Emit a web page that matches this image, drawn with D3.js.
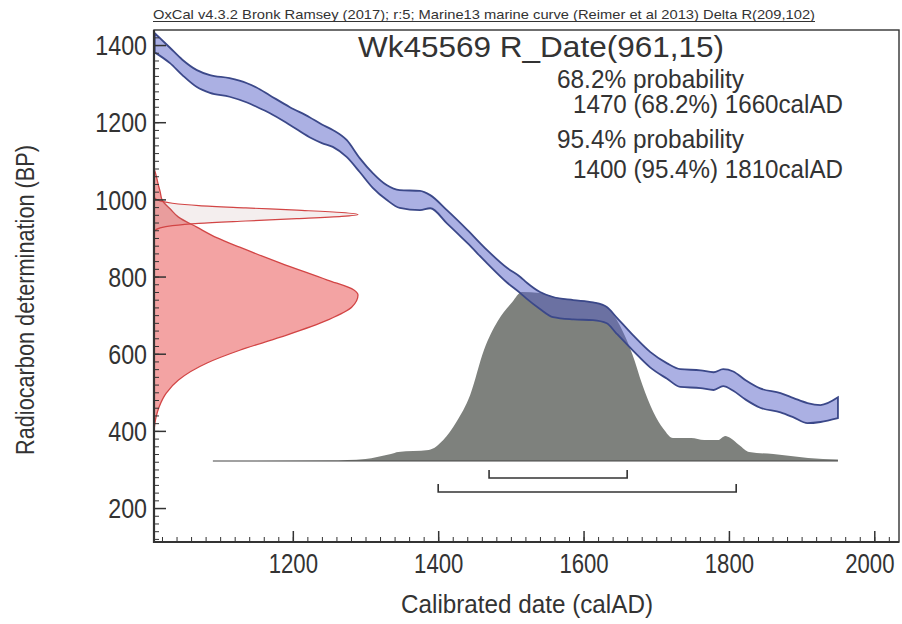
<!DOCTYPE html>
<html>
<head>
<meta charset="utf-8">
<script src="https://cdn.jsdelivr.net/npm/d3@7"></script>
<style>
  body { margin: 0; background: #fff; }
  text { font-family: "Liberation Sans", Arial, Helvetica, sans-serif; fill: #333; }
</style>
</head>
<body>
<div id="chart"></div>
<script>
// calibration curve (Marine13 + Delta R) : year, BP centre, 1 sigma half width
const curveYears = [1010, 1031, 1048, 1068, 1086, 1113, 1137, 1150, 1168, 1196, 1223, 1240, 1255, 1274, 1292, 1310, 1329, 1347, 1375, 1389,
    1412, 1440, 1467, 1495, 1513, 1522, 1540, 1558, 1586, 1613, 1632, 1645, 1668, 1692, 1715, 1733, 1761, 1779, 1792, 1806,
    1823, 1843, 1871, 1889, 1908, 1926, 1950];
const curveBP = [1406, 1373, 1342, 1313, 1299, 1290, 1276, 1265, 1247, 1216, 1187, 1170, 1158, 1132, 1089, 1049, 1018, 1001, 997, 994,
    955, 904, 852, 803, 778, 763, 738, 721, 714, 710, 700, 674, 628, 584, 555, 537, 534, 529, 538, 529,
    506, 485, 473, 460, 446, 445, 460];
const curveErr = [25, 20, 20, 22, 23, 24, 25, 25, 23, 23, 26, 24, 22, 22, 18, 19, 19, 23, 25, 17,
    17, 17, 17, 19, 21, 21, 22, 26, 25, 23, 21, 21, 20, 20, 20, 23, 23, 23, 22, 25,
    25, 25, 25, 25, 26, 22, 27];

// radiocarbon date after reservoir correction (red, on the y axis)
const redBP = [1080, 1063, 1040, 1020, 998, 975, 954, 928, 900, 876, 835, 791, 765, 752, 721, 687, 643, 609, 576, 532, 498, 462, 436, 400];
const redProb = [0, 0.01, 0.02, 0.03, 0.04, 0.08, 0.12, 0.21, 0.31, 0.42, 0.62, 0.85, 0.98, 1.0, 0.97, 0.85, 0.62, 0.42, 0.26, 0.12, 0.06, 0.025, 0.01, 0];

// raw measurement R_Date(961,15)
const rawBP = [1005, 996, 990, 984, 978, 972, 966, 961, 956, 950, 944, 938, 932, 926, 917];
const rawProb = [0, 0.03, 0.09, 0.22, 0.45, 0.7, 0.92, 1.0, 0.92, 0.7, 0.45, 0.22, 0.09, 0.03, 0];

// calibrated probability (grey)
const calYears = [1090, 1250, 1300, 1316, 1335, 1345, 1387, 1407, 1425, 1444, 1463, 1482, 1502, 1515, 1540, 1560, 1586, 1613, 1632, 1645,
    1655, 1667, 1681, 1696, 1710, 1723, 1748, 1766, 1785, 1795, 1802, 1814, 1828, 1861, 1909, 1950];
const calProb = [0, 0.003, 0.012, 0.024, 0.041, 0.053, 0.065, 0.124, 0.231, 0.391, 0.657, 0.828, 0.941, 1.0, 0.994, 0.970, 0.953, 0.941, 0.911, 0.840,
    0.757, 0.633, 0.450, 0.290, 0.189, 0.136, 0.136, 0.124, 0.124, 0.148, 0.136, 0.095, 0.053, 0.041, 0.018, 0.009];

const range68 = [1470, 1660];
const range95 = [1400, 1810];

const xTicks = [1200, 1400, 1600, 1800, 2000];
const yTicks = [200, 400, 600, 800, 1000, 1200, 1400];

const width = 902, height = 624,
    margin = ({ top: 30, right: 3, bottom: 82, left: 154 });
const plotBottom = height - margin.bottom;

const svg = d3.select("#chart")
    .append("svg")
    .attr("width", width)
    .attr("height", height);

const x = d3.scaleLinear([1009, 2034], [margin.left, width - margin.right]);
const y = d3.scaleLinear([112, 1439], [plotBottom, margin.top]);
// probability scales
const xr = d3.scaleLinear([0, 1], [margin.left, margin.left + 204]);
const yp = d3.scaleLinear([0, 1], [plotBottom - 81, plotBottom - 250]);

svg.append("clipPath").attr("id", "clip")
    .append("rect")
    .attr("x", margin.left).attr("y", margin.top)
    .attr("width", width - margin.right - margin.left)
    .attr("height", plotBottom - margin.top);

const plot = svg.append("g").attr("clip-path", "url(#clip)");

// red distribution
const redData = redBP.map((b, i) => ({ bp: b, p: redProb[i] }));
plot.append("path")
    .datum(redData)
    .attr("fill", "rgb(232,72,72)")
    .attr("fill-opacity", 0.5)
    .attr("d", d3.area().curve(d3.curveMonotoneY).y(d => y(d.bp)).x0(xr(0)).x1(d => xr(d.p)));
plot.append("path")
    .datum(redData)
    .attr("fill", "none")
    .attr("stroke", "#d24545")
    .attr("stroke-width", 1.3)
    .attr("d", d3.line().curve(d3.curveMonotoneY).y(d => y(d.bp)).x(d => xr(d.p)));

// raw date spike
const rawData = rawBP.map((b, i) => ({ bp: b, p: rawProb[i] }));
plot.append("path")
    .datum(rawData)
    .attr("fill", "rgb(170,120,120)")
    .attr("fill-opacity", 0.13)
    .attr("stroke", "#d24545")
    .attr("stroke-width", 1.2)
    .attr("d", d3.area().curve(d3.curveMonotoneY).y(d => y(d.bp)).x0(xr(0)).x1(d => xr(d.p)));

// calibrated distribution
const calData = calYears.map((yr, i) => ({ yr: yr, p: calProb[i] }));
plot.append("path")
    .datum(calData)
    .attr("fill", "#7e817d")
    .attr("d", d3.area().curve(d3.curveMonotoneX).x(d => x(d.yr)).y0(yp(0)).y1(d => yp(d.p)));
plot.append("line")
    .attr("x1", x(calYears[0])).attr("x2", x(calYears[calYears.length - 1]))
    .attr("y1", yp(0)).attr("y2", yp(0))
    .attr("stroke", "#444").attr("stroke-width", 1.2);

// calibration curve band
const curveData = curveYears.map((yr, i) => ({ yr: yr, bp: curveBP[i], e: curveErr[i] }));
plot.append("path")
    .datum(curveData)
    .attr("fill", "#5862c8")
    .attr("fill-opacity", 0.5)
    .attr("stroke", "#3b4889")
    .attr("stroke-width", 1.8)
    .attr("d", d3.area().curve(d3.curveMonotoneX).x(d => x(d.yr)).y0(d => y(d.bp - d.e)).y1(d => y(d.bp + d.e)));

// range brackets
function bracket(r, yy) {
    svg.append("path")
        .attr("fill", "none")
        .attr("stroke", "#333")
        .attr("stroke-width", 1.6)
        .attr("d", `M${x(r[0])},${yy - 8}V${yy}H${x(r[1])}V${yy - 8}`);
}
bracket(range68, yp(0) + 17);
bracket(range95, yp(0) + 31);

function squeeze(sel, f) {
    sel.each(function () {
        const w = this.getComputedTextLength();
        d3.select(this).attr("textLength", w * f).attr("lengthAdjust", "spacingAndGlyphs");
    });
}

// axes
const minorY = d3.range(120, 1440, 20);
const minorX = d3.range(1020, 2040, 20);

svg.append("g")
    .attr("transform", `translate(${margin.left},0)`)
    .style("color", "#333")
    .call(d3.axisLeft(y).tickValues(minorY).tickSize(-5).tickFormat(""))
    .call(g => g.select(".domain").remove());
const gy = svg.append("g")
    .attr("transform", `translate(${margin.left},0)`)
    .style("color", "#333")
    .call(d3.axisLeft(y).tickValues(yTicks).tickSize(-12).tickPadding(7).tickFormat(d3.format("d")))
    .call(g => g.select(".domain").remove())
    .attr("font-size", 27).attr("font-family", null);
gy.selectAll("line").attr("stroke-width", 1.5);
gy.selectAll("text").attr("dy", "0.36em");
squeeze(gy.selectAll("text"), 0.86);

svg.append("g")
    .attr("transform", `translate(0,${plotBottom})`)
    .style("color", "#333")
    .call(d3.axisBottom(x).tickValues(minorX).tickSize(-5).tickFormat(""))
    .call(g => g.select(".domain").remove());
const gx = svg.append("g")
    .attr("transform", `translate(0,${plotBottom})`)
    .style("color", "#333")
    .call(d3.axisBottom(x).tickValues(xTicks).tickSize(-11).tickPadding(12).tickFormat(d3.format("d")))
    .call(g => g.select(".domain").remove())
    .attr("font-size", 27).attr("font-family", null);
gx.selectAll("line").attr("stroke-width", 1.5);
squeeze(gx.selectAll("text"), 0.82);
// last label sits against the right edge
gx.selectAll("text").filter(d => d === xTicks[xTicks.length - 1])
    .attr("text-anchor", "end")
    .attr("x", width - margin.right - 5 - x(xTicks[xTicks.length - 1]));

// frame
svg.append("rect")
    .attr("x", margin.left).attr("y", margin.top)
    .attr("width", width - margin.right - margin.left)
    .attr("height", plotBottom - margin.top)
    .attr("fill", "none")
    .attr("stroke", "#333")
    .attr("stroke-width", 1.4);
svg.append("path")
    .attr("stroke", "#333").attr("stroke-width", 2.2).attr("fill", "none")
    .attr("d", `M${margin.left},${margin.top}V${plotBottom}H${width - margin.right}`);

// header
svg.append("text")
    .attr("x", 153).attr("y", 19)
    .attr("font-size", 13)
    .attr("textLength", 662).attr("lengthAdjust", "spacingAndGlyphs")
    .text("OxCal v4.3.2 Bronk Ramsey (2017); r:5; Marine13 marine curve (Reimer et al 2013) Delta  R(209,102)");
svg.append("line")
    .attr("x1", 153).attr("x2", 815).attr("y1", 21.5).attr("y2", 21.5)
    .attr("stroke", "#333").attr("stroke-width", 1);

svg.append("text")
    .attr("x", 358).attr("y", 57)
    .attr("font-size", 30)
    .attr("textLength", 366).attr("lengthAdjust", "spacingAndGlyphs")
    .text("Wk45569 R_Date(961,15)");

const probLines = [
    { t: "68.2% probability", x: 557, y: 88, w: 187 },
    { t: `${range68[0]} (68.2%) ${range68[1]}calAD`, x: 573, y: 113, w: 270 },
    { t: "95.4% probability", x: 557, y: 148, w: 187 },
    { t: `${range95[0]} (95.4%) ${range95[1]}calAD`, x: 573, y: 178, w: 270 }
];
svg.selectAll(".prob")
    .data(probLines)
    .join("text")
    .attr("class", "prob")
    .attr("x", d => d.x).attr("y", d => d.y)
    .attr("font-size", 25)
    .attr("textLength", d => d.w).attr("lengthAdjust", "spacingAndGlyphs")
    .text(d => d.t);

// axis titles
svg.append("text")
    .attr("transform", "translate(34,300) rotate(-90)")
    .attr("text-anchor", "middle")
    .attr("font-size", 26)
    .attr("textLength", 310).attr("lengthAdjust", "spacingAndGlyphs")
    .text("Radiocarbon determination (BP)");
svg.append("text")
    .attr("x", 527).attr("y", 613)
    .attr("text-anchor", "middle")
    .attr("font-size", 26)
    .attr("textLength", 252).attr("lengthAdjust", "spacingAndGlyphs")
    .text("Calibrated date (calAD)");
</script>
</body>
</html>
